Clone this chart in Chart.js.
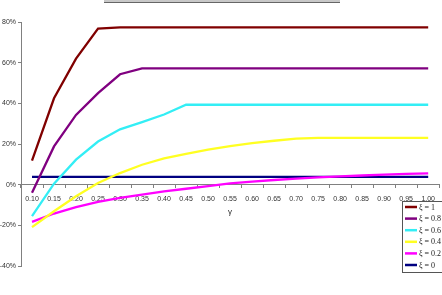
<!DOCTYPE html>
<html>
<head>
<meta charset="utf-8">
<script src="https://cdn.jsdelivr.net/npm/chart.js@4.4.0/dist/chart.umd.min.js"></script>
<style>
  html, body { margin: 0; padding: 0; background: #fff; }
  #wrap { position: relative; width: 442px; height: 295px; overflow: hidden; }
  #topbar { position: absolute; left: 104px; top: 0; width: 236px; height: 2px; background: #c8c8c8; border-bottom: 1px solid #666; }
  canvas { position: absolute; left: 0; top: 0; }
</style>
</head>
<body>
<div id="wrap">
  <canvas id="c" width="442" height="295"></canvas>
  <div id="topbar"></div>
</div>
<script>
const gammas = ['0.10','0.15','0.20','0.25','0.30','0.35','0.40','0.45','0.50','0.55','0.60','0.65','0.70','0.75','0.80','0.85','0.90','0.95','1.00'];
const xi1  = [11.8, 42.5, 62.0, 76.8, 77.4, 77.4, 77.4, 77.4, 77.4, 77.4, 77.4, 77.4, 77.4, 77.4, 77.4, 77.4, 77.4, 77.4, 77.4];
const xi08 = [-4.0, 18.8, 34.3, 45.0, 54.3, 57.2, 57.2, 57.2, 57.2, 57.2, 57.2, 57.2, 57.2, 57.2, 57.2, 57.2, 57.2, 57.2, 57.2];
const xi06 = [-15.5, 0.5, 12.3, 21.2, 27.2, 30.8, 34.5, 39.3, 39.3, 39.3, 39.3, 39.3, 39.3, 39.3, 39.3, 39.3, 39.3, 39.3, 39.3];
const xi04 = [-20.9, -13.1, -5.7, 0.8, 5.7, 9.8, 12.9, 15.2, 17.2, 19.0, 20.4, 21.6, 22.6, 23.0, 23.0, 23.0, 23.0, 23.0, 23.0];
const xi02 = [-18.3, -14.2, -11.1, -8.5, -6.5, -4.9, -3.3, -2.0, -0.7, 0.6, 1.5, 2.3, 3.0, 3.6, 4.1, 4.5, 4.9, 5.3, 5.6];
const xi0  = [3.8, 3.8, 3.8, 3.8, 3.8, 3.8, 3.8, 3.8, 3.8, 3.8, 3.8, 3.8, 3.8, 3.8, 3.8, 3.8, 3.8, 3.8, 3.8];
const seriesLabels = ['ξ = 1', 'ξ = 0.8', 'ξ = 0.6', 'ξ = 0.4', 'ξ = 0.2', 'ξ = 0'];
const seriesColors = ['#800000', '#800080', '#33EEF5', '#FFFF22', '#FF00FF', '#000080'];
const yTicks = [-40, -20, 0, 20, 40, 60, 80];

const allData = [xi1, xi08, xi06, xi04, xi02, xi0];

const legendPlugin = {
  id: 'boxLegend',
  afterDraw(chart) {
    const ctx = chart.ctx;
    const x0 = 402.5, y0 = 201.5, w = 50, h = 71;
    ctx.save();
    ctx.fillStyle = '#fff';
    ctx.fillRect(x0, y0, w, h);
    ctx.strokeStyle = '#555';
    ctx.lineWidth = 1;
    ctx.strokeRect(x0, y0, w, h);
    ctx.font = '8px "Liberation Serif", "Times New Roman", serif';
    ctx.textBaseline = 'middle';
    chart.data.datasets.forEach((ds, i) => {
      const cy = 207 + i * 11.6;
      ctx.strokeStyle = ds.borderColor;
      ctx.lineWidth = 2.5;
      ctx.beginPath();
      ctx.moveTo(405, cy);
      ctx.lineTo(417, cy);
      ctx.stroke();
      ctx.fillStyle = '#222';
      ctx.fillText(ds.label, 419, cy + 0.5);
    });
    ctx.restore();
  }
};

new Chart(document.getElementById('c'), {
  type: 'line',
  data: {
    labels: gammas,
    datasets: allData.map((d, i) => ({
      label: seriesLabels[i],
      data: d,
      borderColor: seriesColors[i],
      backgroundColor: seriesColors[i],
      borderWidth: 2.3,
      pointRadius: 0,
      tension: 0,
      fill: false
    }))
  },
  options: {
    responsive: false,
    animation: false,
    devicePixelRatio: 1,
    layout: { padding: { left: 0, right: 0, top: 22, bottom: 29 } },
    plugins: {
      legend: { display: false },
      tooltip: { enabled: false },
      title: { display: false }
    },
    scales: {
      x: {
        type: 'category',
        position: { y: 0 },
        offset: true,
        grid: { display: true, drawOnChartArea: false, offset: true, tickLength: 3, color: '#808080', lineWidth: 1 },
        border: { display: true, color: '#808080', width: 1 },
        ticks: { autoSkip: false, maxRotation: 0, minRotation: 0, padding: 7, color: '#333', font: { family: '"Liberation Sans", Arial, sans-serif', size: 7 } },
        title: { display: true, text: 'γ', color: '#222', padding: { top: -3, bottom: 0 }, font: { family: '"Liberation Sans", Arial, sans-serif', size: 8 } }
      },
      y: {
        min: -40,
        max: 80,
        afterFit(scale) { scale.width = 21; },
        afterBuildTicks(scale) { scale.ticks = yTicks.map(v => ({ value: v })); },
        grid: { display: true, drawOnChartArea: false, tickLength: 3, color: '#808080', lineWidth: 1 },
        border: { display: true, color: '#808080', width: 1 },
        ticks: { padding: 2, color: '#333', font: { family: '"Liberation Sans", Arial, sans-serif', size: 7 }, callback: v => v + '%' }
      }
    }
  },
  plugins: [legendPlugin]
});
</script>
</body>
</html>
